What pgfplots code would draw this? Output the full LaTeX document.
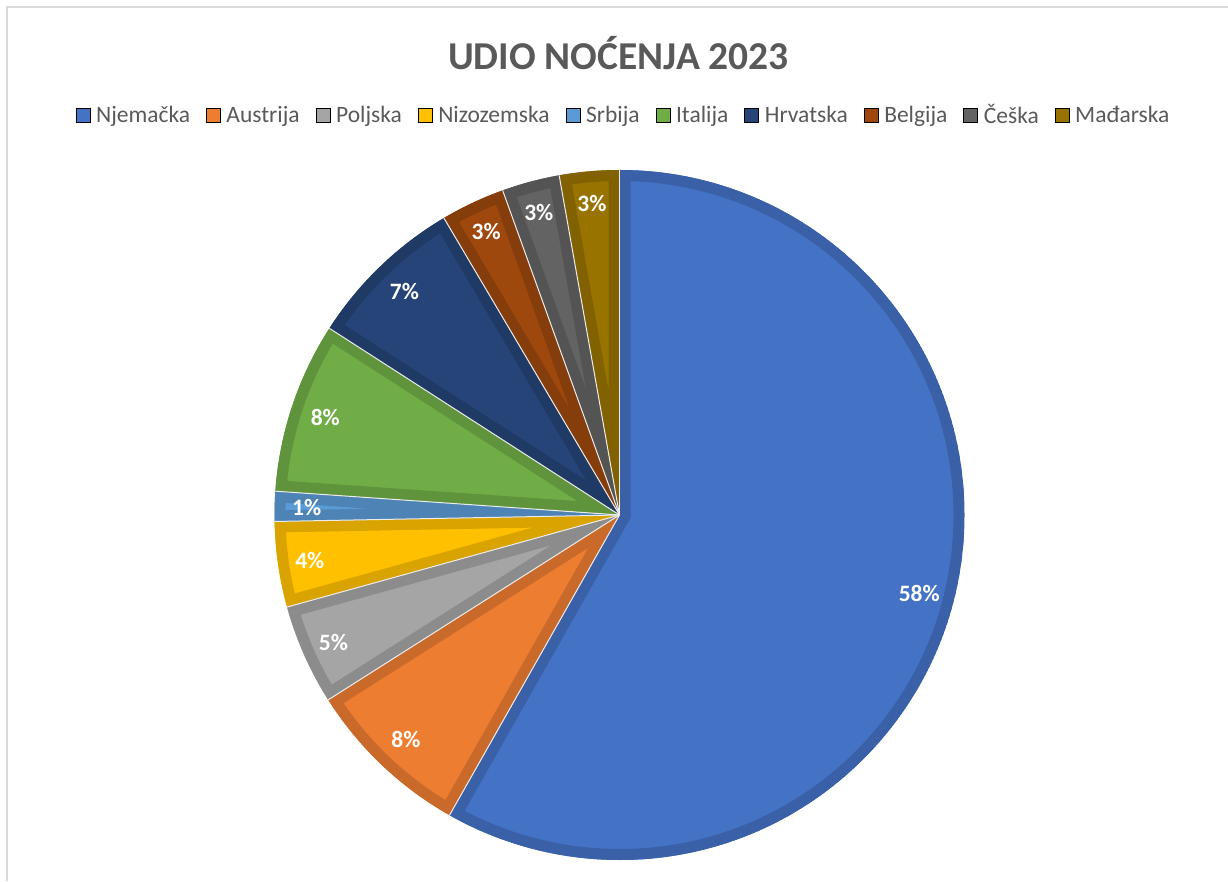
\documentclass[border=0pt]{standalone}
\usepackage{fontspec}
\setmainfont{Carlito}
\usepackage{pgfplots}
\usepackage{pgfplotstable}
\pgfplotsset{compat=1.18}

\definecolor{c0}{HTML}{4472C4}
\definecolor{c1}{HTML}{ED7D31}
\definecolor{c2}{HTML}{A5A5A5}
\definecolor{c3}{HTML}{FFC000}
\definecolor{c4}{HTML}{5B9BD5}
\definecolor{c5}{HTML}{70AD47}
\definecolor{c6}{HTML}{264478}
\definecolor{c7}{HTML}{9E480E}
\definecolor{c8}{HTML}{636363}
\definecolor{c9}{HTML}{997300}
\definecolor{txtgray}{HTML}{595959}
\definecolor{framegray}{HTML}{D9D9D9}

% share of overnight stays, clockwise from 12 o'clock
\pgfplotstableread{
idx value
0 58.2
1 7.8
2 4.7
3 4.0
4 1.4
5 8.0
6 7.4
7 3.0
8 2.7
9 2.8
}\datatable

\pgfplotsset{sq/.style={legend image code/.code={\fill[##1] (0pt,-7pt) rectangle (14pt,7pt);}}}

\begin{document}
\begin{tikzpicture}
\begin{axis}[
  x=1pt, y=1pt,
  xmin=-619.5, xmax=608.5, ymin=-366, ymax=515,
  hide axis, clip=false, scale only axis,
  legend columns=10,
  legend style={at={(axis cs:4.5,400)}, anchor=center, draw=none, fill=none,
    font=\fontsize{23.5}{26}\selectfont, text=txtgray,
    nodes={inner sep=3pt},
    /tikz/every odd column/.append style={column sep=3pt},
    /tikz/every even column/.append style={column sep=13pt}},
  legend cell align=left,
]
\addlegendimage{sq, fill=c0}\addlegendentry{Njemačka}
\addlegendimage{sq, fill=c1}\addlegendentry{Austrija}
\addlegendimage{sq, fill=c2}\addlegendentry{Poljska}
\addlegendimage{sq, fill=c3}\addlegendentry{Nizozemska}
\addlegendimage{sq, fill=c4}\addlegendentry{Srbija}
\addlegendimage{sq, fill=c5}\addlegendentry{Italija}
\addlegendimage{sq, fill=c6}\addlegendentry{Hrvatska}
\addlegendimage{sq, fill=c7}\addlegendentry{Belgija}
\addlegendimage{sq, fill=c8}\addlegendentry{Češka}
\addlegendimage{sq, fill=c9}\addlegendentry{Mađarska}

\pgfplotsextra{
  \gdef\cum{0}
  \foreach \i in {0,...,9}{
    \pgfplotstablegetelem{\i}{value}\of\datatable
    \let\va\pgfplotsretval
    \pgfmathsetmacro\sa{90-3.6*\cum}
    \pgfmathsetmacro\ea{90-3.6*(\cum+\va)}
    \pgfmathsetmacro\newcum{\cum+\va}
    \xdef\cum{\newcum}
    \def\wedge{(axis cs:0,0) -- (axis cs:{345*cos(\sa)},{345*sin(\sa)}) arc[start angle=\sa, end angle=\ea, radius=345pt] -- cycle}
    \begin{scope}
      \clip \wedge;
      \fill[c\i] \wedge;
      \draw[c\i!85!black, line width=22pt, line join=miter] \wedge;
    \end{scope}
  }
  \gdef\cum{0}
  \foreach \i in {0,...,9}{
    \pgfplotstablegetelem{\i}{value}\of\datatable
    \let\va\pgfplotsretval
    \pgfmathsetmacro\sa{90-3.6*\cum}
    \pgfmathsetmacro\ea{90-3.6*(\cum+\va)}
    \pgfmathsetmacro\ma{(\sa+\ea)/2}
    \pgfmathtruncatemacro\lab{round(\va)}
    \pgfmathsetmacro\lr{\va<5 ? 313 : 310}
    \pgfmathsetmacro\newcum{\cum+\va}
    \xdef\cum{\newcum}
    \draw[white!85!gray, line width=1pt] (axis cs:0,0) -- (axis cs:{345*cos(\sa)},{345*sin(\sa)});
    \node[text=white, font=\bfseries\fontsize{23.5}{26}\selectfont] at (axis cs:{\lr*cos(\ma)},{\lr*sin(\ma)}) {\lab\%};
  }
}

\node[text=txtgray, font=\bfseries\fontsize{39.5}{44}\selectfont] at (axis cs:-1,462) {UDIO NOĆENJA 2023};
\draw[framegray, line width=2pt] (axis cs:-612.5,-366) -- (axis cs:-612.5,508) -- (axis cs:608.5,508);
\coordinate (BL) at (axis cs:-619.5,-366);
\coordinate (TR) at (axis cs:608.5,515);
\end{axis}
\pgfresetboundingbox
\path (BL) rectangle (TR);
\end{tikzpicture}
\end{document}
